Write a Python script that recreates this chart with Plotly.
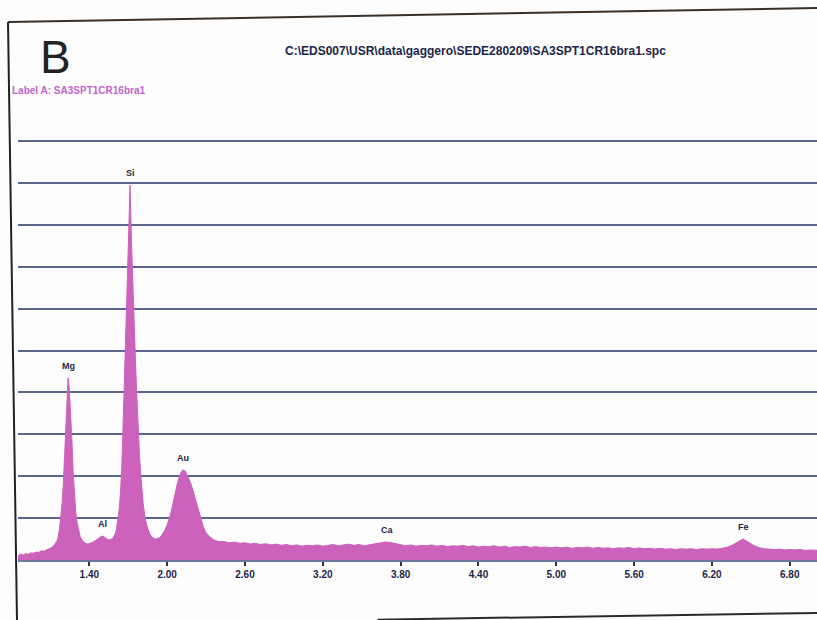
import plotly.graph_objects as go

# ---- data (energy keV, relative counts in grid units) ----
energy = [0.85, 0.87, 0.89, 0.91, 0.93, 0.95, 0.97, 0.99, 1.01, 1.03, 1.05, 1.07, 1.09, 1.11, 1.13,
          1.15, 1.16, 1.17, 1.18, 1.19, 1.20, 1.21, 1.22, 1.23, 1.236, 1.245, 1.255, 1.265, 1.275, 1.285,
          1.295, 1.305, 1.315, 1.33, 1.35, 1.37, 1.39, 1.41, 1.43, 1.45, 1.47, 1.49, 1.50, 1.52, 1.54,
          1.56, 1.58, 1.60, 1.61, 1.62, 1.63, 1.64, 1.65, 1.66, 1.67, 1.68, 1.69, 1.70, 1.714, 1.725,
          1.735, 1.745, 1.755, 1.765, 1.775, 1.785, 1.795, 1.805, 1.815, 1.83, 1.85, 1.87, 1.89, 1.91, 1.93,
          1.94, 1.96, 1.98, 2.00, 2.02, 2.04, 2.06, 2.08, 2.10, 2.12, 2.14, 2.16, 2.18, 2.20, 2.22,
          2.24, 2.26, 2.28, 2.30, 2.33, 2.36, 2.40,
          2.44, 2.48, 2.52, 2.56, 2.60, 2.64, 2.68, 2.72, 2.76, 2.80, 2.84, 2.88, 2.92, 2.96, 3.00,
          3.04, 3.08, 3.12, 3.16, 3.20, 3.24, 3.28, 3.32, 3.36, 3.40, 3.44, 3.48, 3.52, 3.56, 3.60,
          3.64, 3.68, 3.72, 3.76, 3.80, 3.84, 3.88, 3.92, 3.96, 4.00, 4.04, 4.08, 4.12, 4.16, 4.20,
          4.24, 4.28, 4.32, 4.36, 4.40, 4.44, 4.48, 4.52, 4.56, 4.60, 4.64, 4.68, 4.72, 4.76, 4.80,
          4.84, 4.88, 4.92, 4.96, 5.00, 5.04, 5.08, 5.12, 5.16, 5.20, 5.24, 5.28, 5.32, 5.36, 5.40,
          5.44, 5.48, 5.52, 5.56, 5.60, 5.64, 5.68, 5.72, 5.76, 5.80, 5.84, 5.88, 5.92, 5.96, 6.00,
          6.04, 6.08, 6.12, 6.16, 6.20, 6.24, 6.28, 6.32, 6.36, 6.40, 6.44, 6.48, 6.52, 6.56, 6.60,
          6.64, 6.68, 6.72, 6.76, 6.80, 6.84, 6.88, 6.92, 6.96, 7.00, 7.02]

counts = [0.10, 0.14, 0.12, 0.15, 0.14, 0.17, 0.16, 0.19, 0.18, 0.22, 0.21, 0.25, 0.27, 0.30, 0.36,
          0.45, 0.55, 0.75, 1.00, 1.35, 1.85, 2.50, 3.50, 4.15, 4.35, 4.10, 3.60, 2.90, 2.10, 1.55,
          1.15, 0.90, 0.72, 0.55, 0.45, 0.40, 0.38, 0.40, 0.43, 0.47, 0.52, 0.56, 0.57, 0.54, 0.49,
          0.48, 0.52, 0.62, 0.75, 0.95, 1.20, 1.60, 2.20, 3.20, 4.20, 5.30, 6.40, 7.60, 8.95, 7.60,
          6.50, 5.60, 4.80, 4.00, 3.20, 2.60, 2.10, 1.70, 1.35, 1.00, 0.75, 0.60, 0.53, 0.50, 0.51,
          0.53, 0.60, 0.70, 0.84, 1.02, 1.28, 1.58, 1.85, 2.05, 2.15, 2.12, 2.00, 1.85, 1.65, 1.42,
          1.18, 0.95, 0.78, 0.65, 0.55, 0.48, 0.44,
          0.44, 0.41, 0.43, 0.40, 0.41, 0.38, 0.40, 0.37, 0.39, 0.36, 0.38, 0.35, 0.37, 0.34, 0.36,
          0.33, 0.35, 0.34, 0.36, 0.33, 0.35, 0.37, 0.34, 0.36, 0.38, 0.35, 0.37, 0.34, 0.36, 0.38,
          0.40, 0.43, 0.42, 0.39, 0.36, 0.34, 0.36, 0.33, 0.35, 0.34, 0.36, 0.33, 0.35, 0.32, 0.34,
          0.33, 0.35, 0.32, 0.34, 0.31, 0.33, 0.32, 0.34, 0.31, 0.33, 0.30, 0.32, 0.31, 0.33, 0.30,
          0.32, 0.30, 0.31, 0.29, 0.31, 0.29, 0.31, 0.28, 0.30, 0.29, 0.31, 0.28, 0.30, 0.28, 0.29,
          0.27, 0.29, 0.28, 0.30, 0.27, 0.29, 0.27, 0.28, 0.26, 0.28, 0.26, 0.27, 0.25, 0.27, 0.26,
          0.27, 0.25, 0.27, 0.26, 0.27, 0.26, 0.28, 0.31, 0.36, 0.44, 0.50, 0.43, 0.35, 0.30, 0.27,
          0.26, 0.25, 0.26, 0.24, 0.25, 0.24, 0.25, 0.23, 0.24, 0.23, 0.23]

peak_names = ["Mg", "Al", "Si", "Au", "Ca", "Fe"]
peak_energy = [1.236, 1.50, 1.714, 2.12, 3.70, 6.44]
peak_height = [4.35, 0.57, 8.95, 2.15, 0.43, 0.50]

tick_vals = [1.40, 2.00, 2.60, 3.20, 3.80, 4.40, 5.00, 5.60, 6.20, 6.80]
tick_text = ["1.40", "2.00", "2.60", "3.20", "3.80", "4.40", "5.00", "5.60", "6.20", "6.80"]

header_text = "C:\\EDS007\\USR\\data\\gaggero\\SEDE280209\\SA3SPT1CR16bra1.spc"
label_text = "Label A: SA3SPT1CR16bra1"
panel_letter = "B"

NARROW = "Liberation Sans Narrow, Liberation Sans, Arial, sans-serif"
FILL = "rgb(204,98,188)"
INK = "#1c2548"

fig = go.Figure()
fig.add_trace(go.Scatter(
    x=energy, y=counts, mode="lines", fill="tozeroy",
    line=dict(color=FILL, width=1), fillcolor=FILL, hoverinfo="x+y",
))

for n, e, h in zip(peak_names, peak_energy, peak_height):
    fig.add_annotation(x=e, y=h, text=f"<b>{n}</b>", showarrow=False,
                       yanchor="bottom", yshift=5,
                       font=dict(family=NARROW, size=9, color=INK))

fig.add_annotation(xref="paper", yref="paper", x=0.047, y=1.19, text=panel_letter,
                   showarrow=False, xanchor="center", yanchor="middle",
                   font=dict(family="Liberation Sans, Arial, sans-serif", size=46, color="#222222"))
fig.add_annotation(xref="paper", yref="paper", x=0.572, y=1.203, text=f"<b>{header_text}</b>",
                   showarrow=False, xanchor="center", yanchor="middle",
                   font=dict(family=NARROW, size=12, color=INK))
fig.add_annotation(xref="paper", yref="paper", x=-0.010, y=1.11, text=f"<b>{label_text}</b>",
                   showarrow=False, xanchor="left", yanchor="middle",
                   font=dict(family=NARROW, size=10, color="#c264cf"))

# frame lines of the scanned sheet (slightly rotated scan)
fig.add_shape(type="line", xref="paper", yref="paper", x0=-0.0125, x1=-0.0012, y0=1.272, y1=-0.15,
              line=dict(color="#222222", width=2))
fig.add_shape(type="line", xref="paper", yref="paper", x0=-0.0125, x1=1.0, y0=1.272, y1=1.305,
              line=dict(color="#3a3028", width=2))
fig.add_shape(type="line", xref="paper", yref="paper", x0=0.45, x1=1.0, y0=-0.141, y1=-0.125,
              line=dict(color="#2a2a2a", width=2))

fig.update_layout(
    width=817, height=620,
    margin=dict(l=18, r=0, t=137, b=60),
    paper_bgcolor="#fdfdfd", plot_bgcolor="#fdfdfd",
    showlegend=False,
    xaxis=dict(range=[0.85, 7.01], tickvals=tick_vals, ticktext=tick_text,
               showgrid=False, zeroline=False, showline=True, linecolor="#6a7aa2", linewidth=2,
               ticks="outside", ticklen=4, tickwidth=2, tickcolor="#2a3050",
               tickfont=dict(family=NARROW, size=10, color=INK, weight="bold")),
    yaxis=dict(range=[0, 10.1], dtick=1, showticklabels=False, showgrid=True,
               gridcolor="#5b6690", gridwidth=2, zeroline=False, showline=False, ticks=""),
)

fig.write_html("out.html", config={"displayModeBar": False},
               post_script="document.body.style.margin='0px';document.body.style.overflow='hidden';")
